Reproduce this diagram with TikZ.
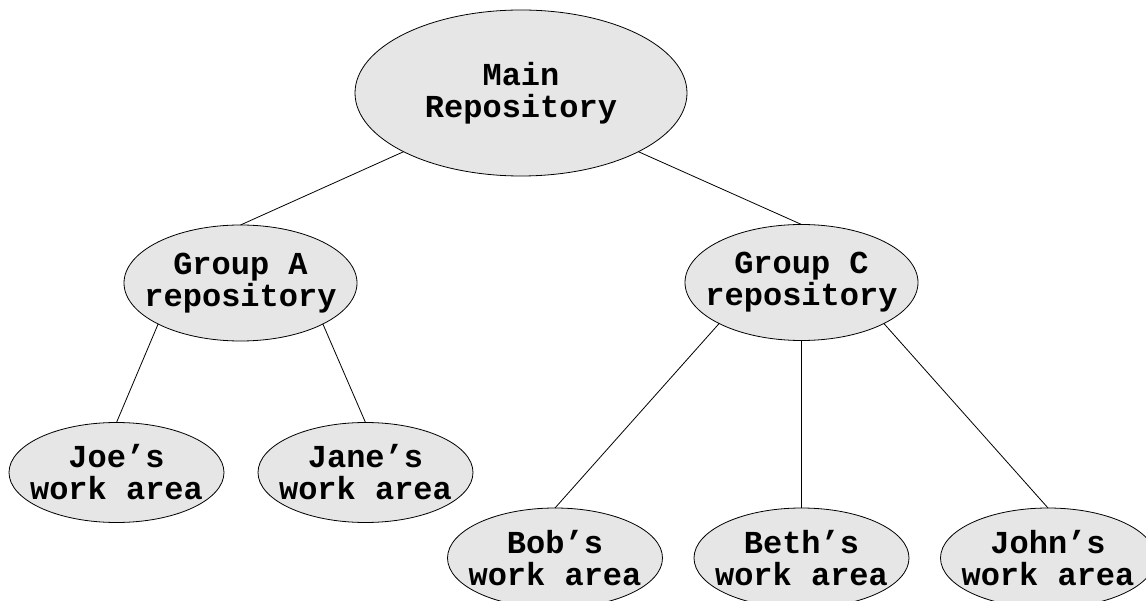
\documentclass[tikz,border=0pt]{standalone}
\usepackage{fontspec}
\setmonofont{Liberation Mono}
\usetikzlibrary{shapes.geometric}
\definecolor{repofill}{HTML}{E6E6E6}
\tikzset{
  repo/.style={ellipse, draw=black, fill=repofill, line width=0.8pt, inner sep=0pt, outer sep=0pt},
  repoL/.style={repo, minimum width=332pt, minimum height=166pt},
  repoM/.style={repo, minimum width=233pt, minimum height=116pt},
  repoS/.style={repo, minimum width=215pt, minimum height=100pt},
  txt/.style={font=\fontsize{32}{32}\selectfont\ttfamily\bfseries, align=center, inner sep=0pt},
  link/.style={draw=black, line width=0.8pt},
}
\begin{document}
\begin{tikzpicture}[x=1pt, y=-1pt]
  \useasboundingbox (0,0) rectangle (1146,601);
  \clip (0,0) rectangle (1146,601);

  % repositories
  \node[repoL] (main) at (521,93) {};
  \node[repoM] (ga) at (240.5,283) {};
  \node[repoM] (gc) at (801.5,282.5) {};

  % work areas
  \node[repoS] (joe)  at (116.5,472.5) {};
  \node[repoS] (jane) at (365.5,472.5) {};
  \node[repoS] (bob)  at (555,558) {};
  \node[repoS] (beth) at (801.5,558) {};
  \node[repoS] (john) at (1048,558) {};

  % labels
  \node[txt] (mainT) at (main) {Main\\Repository};
  \node[txt] (gaT)   at (ga)   {Group A\\repository};
  \node[txt] (gcT)   at (gc)   {Group C\\repository};
  \node[txt] (joeT)  at (joe)  {Joe’s\\work area};
  \node[txt] (janeT) at (jane) {Jane’s\\work area};
  \node[txt] (bobT)  at (bob)  {Bob’s\\work area};
  \node[txt] (bethT) at (beth) {Beth’s\\work area};
  \node[txt] (johnT) at (john) {John’s\\work area};

  % hierarchy
  \draw[link] (main.south west) -- (ga.north);
  \draw[link] (main.south east) -- (gc.north);
  \draw[link] (ga.south west) -- (joe.north);
  \draw[link] (ga.south east) -- (jane.north);
  \draw[link] (gc.south west) -- (bob.north);
  \draw[link] (gc.south) -- (beth.north);
  \draw[link] (gc.south east) -- (john.north);
\end{tikzpicture}
\end{document}
